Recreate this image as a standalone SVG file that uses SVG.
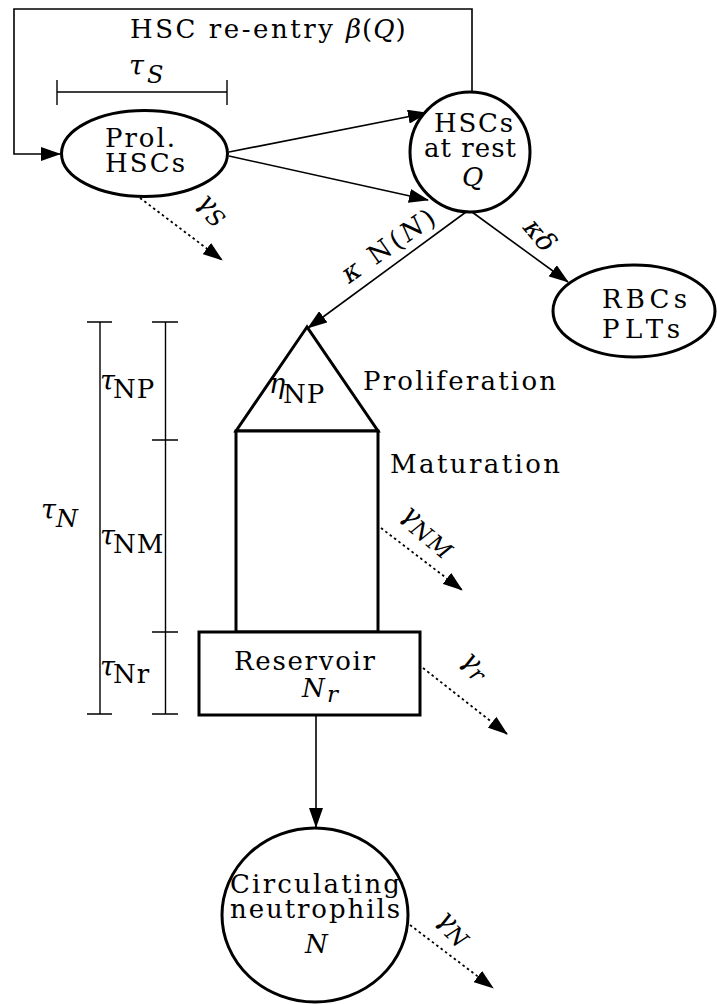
<svg xmlns="http://www.w3.org/2000/svg" width="717" height="1004" viewBox="0 0 717 1004">
  <style>
    .t { font-family: "DejaVu Serif", "Liberation Serif", serif; font-size: 26px; fill: #000; }
    .m { font-style: italic; }
    .g { font-size: 27px; }
    .node { fill: #fff; stroke: #000; stroke-width: 3; }
    .conn { fill: none; stroke: #000; stroke-width: 1.6; }
    .dot { fill: none; stroke: #000; stroke-width: 1.8; stroke-dasharray: 2.5 3; }
    .bar { fill: none; stroke: #000; stroke-width: 1.4; }
  </style>
  <defs>
    <marker id="ah" markerWidth="20" markerHeight="14" refX="19" refY="7" orient="auto" markerUnits="userSpaceOnUse">
      <path d="M0,0 L20,7 L0,14 z" fill="#000"/>
    </marker>
  </defs>
  <rect width="717" height="1004" fill="#fff"/>

  <!-- connectors -->
  <g id="connectors">
    <path class="conn" d="M472,92 V9 H14 V154 H60" marker-end="url(#ah)"/>
    <path class="conn" d="M229,152 L427,113" marker-end="url(#ah)"/>
    <path class="conn" d="M229,156 L428,200" marker-end="url(#ah)"/>
    <path class="conn" d="M466,212 L308,328" marker-end="url(#ah)"/>
    <path class="conn" d="M472,212 L568,282" marker-end="url(#ah)"/>
    <path class="conn" d="M316,715 V827" marker-end="url(#ah)"/>
    <path class="dot" d="M140,198 L222,260" marker-end="url(#ah)"/>
    <path class="dot" d="M381,528 L462,590" marker-end="url(#ah)"/>
    <path class="dot" d="M423,668 L507,734" marker-end="url(#ah)"/>
    <path class="dot" d="M410,925 L493,988" marker-end="url(#ah)"/>
  </g>

  <!-- delay bars -->
  <g id="delays">
    <path class="bar" d="M57,92 H227 M57,80 V105 M227,80 V105"/>
    <path class="bar" d="M100,322 V714 M87,322 H112 M87,714 H112"/>
    <path class="bar" d="M165.5,322 V714 M152,322 H178 M152,440 H178 M152,632 H178 M152,714 H178"/>
    <text class="t" x="129" y="75"><tspan class="m g">τ</tspan><tspan class="m" font-size="24" x="147" y="83">S</tspan></text>
    <text class="t" x="41" y="519"><tspan class="m g">τ</tspan><tspan class="m" font-size="25" x="56" y="527">N</tspan></text>
    <text class="t" x="100" y="390"><tspan class="m g">τ</tspan><tspan x="113" y="398" letter-spacing="1">NP</tspan></text>
    <text class="t" x="100" y="545"><tspan class="m g">τ</tspan><tspan x="113" y="553" letter-spacing="1">NM</tspan></text>
    <text class="t" x="100" y="676"><tspan class="m g">τ</tspan><tspan x="113" y="683" letter-spacing="1">Nr</tspan></text>
  </g>

  <!-- feedback label -->
  <g id="reentry-label">
    <text class="t" x="130" y="38" textLength="203" lengthAdjust="spacing">HSC re-entry</text>
    <text class="t" x="346" y="38" letter-spacing="1"><tspan class="m">β</tspan>(<tspan class="m">Q</tspan>)</text>
  </g>

  <!-- proliferating HSCs -->
  <g id="prol-hsc">
    <ellipse class="node" cx="144.5" cy="153.5" rx="83" ry="43"/>
    <text class="t" x="105" y="147" textLength="70" lengthAdjust="spacing">Prol.</text>
    <text class="t" x="105" y="172" textLength="80" lengthAdjust="spacing">HSCs</text>
  </g>

  <!-- resting HSCs -->
  <g id="rest-hsc">
    <circle class="node" cx="470" cy="152" r="60"/>
    <text class="t" x="434" y="132" textLength="79" lengthAdjust="spacing">HSCs</text>
    <text class="t" x="424" y="157" textLength="92" lengthAdjust="spacing">at rest</text>
    <text class="t m" x="462" y="186">Q</text>
  </g>

  <!-- RBCs / PLTs -->
  <g id="rbc-plt">
    <ellipse class="node" cx="634" cy="311" rx="81" ry="46"/>
    <text class="t" x="602" y="308" textLength="85" lengthAdjust="spacing">RBCs</text>
    <text class="t" x="602" y="338" textLength="78" lengthAdjust="spacing">PLTs</text>
  </g>

  <!-- proliferation compartment -->
  <g id="proliferation">
    <polygon class="node" points="307,327 236,431 378,431"/>
    <text class="t" x="269" y="393"><tspan class="m g">η</tspan><tspan x="283" y="403" letter-spacing="1">NP</tspan></text>
    <text class="t" x="363" y="390" textLength="193" lengthAdjust="spacing">Proliferation</text>
  </g>

  <!-- maturation compartment -->
  <g id="maturation">
    <rect class="node" x="236" y="431" width="142" height="201"/>
    <text class="t" x="390" y="473" textLength="170" lengthAdjust="spacing">Maturation</text>
  </g>

  <!-- reservoir -->
  <g id="reservoir">
    <rect class="node" x="199" y="632" width="221" height="83"/>
    <text class="t" x="234" y="670" textLength="141" lengthAdjust="spacing">Reservoir</text>
    <text class="t m" x="302" y="697" font-size="25">N<tspan font-size="23" x="327" y="702">r</tspan></text>
  </g>

  <!-- circulating neutrophils -->
  <g id="circulating">
    <ellipse class="node" cx="315" cy="915" rx="93" ry="87"/>
    <text class="t" x="230" y="893" textLength="170" lengthAdjust="spacing">Circulating</text>
    <text class="t" x="230" y="918" textLength="170" lengthAdjust="spacing">neutrophils</text>
    <text class="t m" x="305" y="953">N</text>
  </g>

  <!-- rate labels along connectors -->
  <g id="rate-labels">
    <text class="t" transform="translate(349,284) rotate(-35)" textLength="108" lengthAdjust="spacing"><tspan class="m g">κ</tspan> N(<tspan class="m">N</tspan>)</text>
    <text class="t m g" transform="translate(522,228) rotate(50)">κδ</text>
    <text class="t m" transform="translate(196,203) rotate(45)"><tspan class="g">γ</tspan><tspan font-size="23" dy="5">S</tspan></text>
    <text class="t m" transform="translate(400,516) rotate(40)"><tspan class="g">γ</tspan><tspan font-size="23" dy="6" letter-spacing="2">NM</tspan></text>
    <text class="t m" transform="translate(460,661) rotate(45)"><tspan class="g">γ</tspan><tspan font-size="23" dy="5">r</tspan></text>
    <text class="t m" transform="translate(436,920) rotate(45)"><tspan class="g">γ</tspan><tspan font-size="23" dy="5">N</tspan></text>
  </g>
</svg>
